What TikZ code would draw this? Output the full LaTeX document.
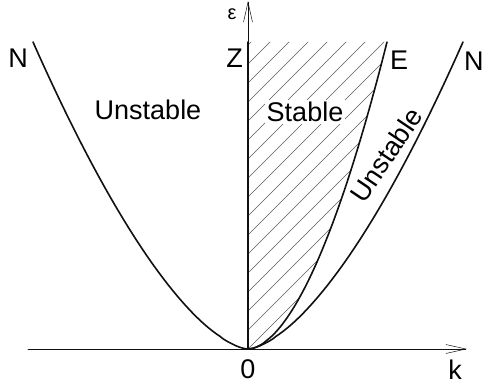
\documentclass[tikz,border=0pt]{standalone}
\usepackage{fontspec}
\setmainfont{Liberation Sans}
\usetikzlibrary{arrows.meta,positioning}
\definecolor{ink}{HTML}{111111}
\definecolor{hatchgray}{HTML}{5A5A5A}

\tikzset{
  curve/.style={ink,line width=1.6pt},
  axis/.style={ink,line width=0.6pt,-{Straight Barb[length=20pt,width=9pt,line width=0.5pt]}},
  hatch/.style={hatchgray,line width=0.5pt},
  lbl/.style={font=\fontsize{27}{27}\selectfont,inner sep=1pt},
}

\begin{document}
\begin{tikzpicture}[x=1pt,y=1pt,line cap=round,line join=round]
  \useasboundingbox (-248,-39) rectangle (238,349);
  % end points of the curves
  \coordinate (o) at (0,0);
  \coordinate (ztop) at (0,307);
  \coordinate (etop) at (139,307);
  \coordinate (nleft) at (-215,307);
  \coordinate (nright) at (215,307);
  % hatched stable region
  \begin{scope}
    \clip (o) -- (ztop) -- (etop)
      -- plot[domain=139:0.01,samples=60] ({\x},{307*pow(\x/139,1.8)}) -- cycle;
    \foreach \c in {-152,-133,...,307}
      \draw[hatch] (0,\c) -- ++(330,330);
  \end{scope}
  % axes
  \draw[axis] (-220,0) -- (219,0) coordinate (kend);
  \draw[axis] (ztop) -- (0,348) coordinate (eend);
  % curves
  \draw[curve] (o) -- (ztop);
  \draw[curve] plot[domain=-215:-0.01,samples=70] ({\x},{307*pow(-\x/215,1.58)})
    -- plot[domain=0.01:215,samples=70] ({\x},{307*pow(\x/215,1.58)});
  \draw[curve] plot[domain=0.01:139,samples=70] ({\x},{307*pow(\x/139,1.8)});
  % labels
  \node[lbl,left=4pt of nleft,yshift=-16pt] (nl) {N};
  \node[lbl,left=4pt of ztop,yshift=-16pt] (z) {Z};
  \node[lbl,right=2pt of etop,yshift=-18pt] (e) {E};
  \node[lbl,right=0pt of nright,yshift=-19pt] (nr) {N};
  \node[font=\fontsize{20}{20}\selectfont,inner sep=0pt] (eps) at (-16,335) {ε};
  \node[lbl] (zero) at (0,-20) {0};
  \node[lbl] (k) at (207,-21) {k};
  \node[lbl] (unstl) at (-100,239) {Unstable};
  \node[lbl,fill=white,inner sep=2pt] (stab) at (57,237) {Stable};
  \node[lbl,rotate=56] (unstr) at (138,194) {Unstable};
\end{tikzpicture}
\end{document}
